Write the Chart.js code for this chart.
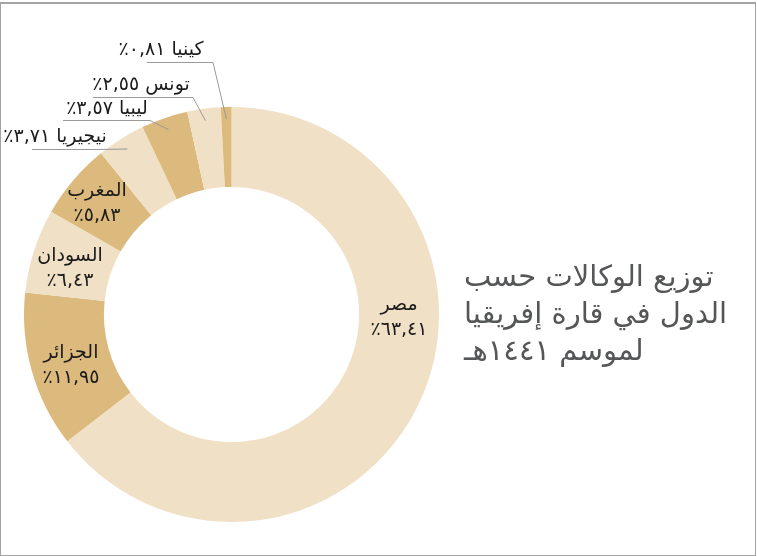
<!DOCTYPE html>
<html lang="ar">
<head>
<meta charset="utf-8">
<title>توزيع الوكالات حسب الدول في قارة إفريقيا</title>
<script src="https://cdn.jsdelivr.net/npm/chart.js@4/dist/chart.umd.min.js"></script>
<style>
  html, body { margin: 0; padding: 0; background: #fff; overflow: hidden; }
  .frame {
    position: absolute; left: 0; top: 2px; width: 754px; height: 551px;
    border: 1px solid #a3a3a3; border-top-width: 2px;
  }
  canvas { position: absolute; left: 0; top: 0; }
  .title {
    position: absolute; left: 464px; top: 258px; width: 290px;
    direction: rtl; text-align: left;
    font-family: "DejaVu Sans", sans-serif; font-size: 29px; line-height: 37px;
    color: #555657;
  }
</style>
</head>
<body>
<div class="frame"></div>
<canvas id="agencyChart" width="757" height="556"></canvas>
<div class="title">توزيع الوكالات حسب<br>الدول في قارة إفريقيا<br>لموسم ١٤٤١هـ</div>

<script>
const countries = ['مصر', 'الجزائر', 'السودان', 'المغرب', 'نيجيريا', 'ليبيا', 'تونس', 'كينيا'];
const shares = [63.41, 11.95, 6.43, 5.83, 3.71, 3.57, 2.55, 0.81];
const sliceColors = ['#f0e0c6', '#dcb97c', '#f0e0c6', '#dcb97c', '#f0e0c6', '#dcb97c', '#f0e0c6', '#dcb97c'];

// where each label sits; outside labels get a leader line that runs
// along the underline and then into the slice
const labelPlacement = [
  { x: 399, y: 305, inside: true },
  { x: 71, y: 353, inside: true },
  { x: 70, y: 256, inside: true },
  { x: 97, y: 191, inside: true },
  { x: 55, y: 137, lineFrom: 32, lineTo: 98, lineY: 149 },
  { x: 107, y: 109, lineFrom: 63, lineTo: 150, lineY: 120 },
  { x: 141, y: 85, lineFrom: 93, lineTo: 193, lineY: 97 },
  { x: 161, y: 50, lineFrom: 147, lineTo: 213, lineY: 62 }
];

const arabicDigits = '٠١٢٣٤٥٦٧٨٩';
function toArabic(value) {
  return value.toFixed(2).replace('.', ',').replace(/\d/g, (d) => arabicDigits[d]);
}

const sliceLabels = {
  id: 'sliceLabels',
  afterDatasetsDraw(chart) {
    const ctx = chart.ctx;
    const arcs = chart.getDatasetMeta(0).data;
    ctx.save();
    ctx.direction = 'rtl';
    ctx.textAlign = 'center';
    ctx.textBaseline = 'middle';
    ctx.fillStyle = '#1b1b1b';
    ctx.font = '19px "DejaVu Sans", sans-serif';

    arcs.forEach((arc, i) => {
      const place = labelPlacement[i];
      const pct = toArabic(shares[i]) + '٪';
      if (place.inside) {
        ctx.fillText(countries[i], place.x, place.y);
        ctx.fillText(pct, place.x, place.y + 25);
        return;
      }
      const mid = (arc.startAngle + arc.endAngle) / 2;
      const r = arc.outerRadius - 12;
      const tipX = arc.x + Math.cos(mid) * r;
      const tipY = arc.y + Math.sin(mid) * r;
      ctx.strokeStyle = '#9a9a9a';
      ctx.lineWidth = 1;
      ctx.beginPath();
      ctx.moveTo(place.lineFrom, place.lineY + 0.5);
      ctx.lineTo(place.lineTo, place.lineY + 0.5);
      ctx.lineTo(tipX, tipY);
      ctx.stroke();
      ctx.fillText(countries[i] + ' ' + pct, place.x, place.y);
    });
    ctx.restore();
  }
};

new Chart(document.getElementById('agencyChart'), {
  type: 'doughnut',
  data: {
    labels: countries,
    datasets: [{
      data: shares,
      backgroundColor: sliceColors,
      borderWidth: 0
    }]
  },
  options: {
    responsive: false,
    animation: false,
    cutout: '61.5%',
    layout: { padding: { left: 24, top: 107, right: 318, bottom: 34 } },
    plugins: {
      legend: { display: false },
      tooltip: { enabled: false }
    }
  },
  plugins: [sliceLabels]
});
</script>
</body>
</html>
